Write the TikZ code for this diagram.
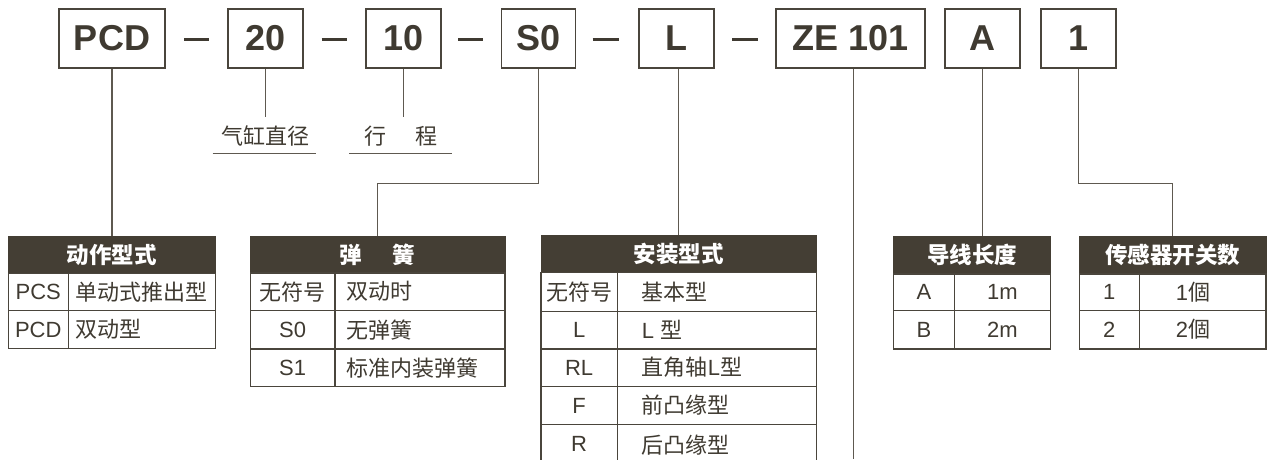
\documentclass[tikz,border=0pt]{standalone}
\usepackage{fontspec}
\setmainfont{Liberation Sans}
\newfontfamily\cjk{Noto Sans CJK SC}
\newcommand\C[1]{{\cjk #1}}
\definecolor{txtc}{HTML}{3F3A31}
\definecolor{hdrc}{HTML}{443E34}
\definecolor{boxc}{HTML}{4A453C}
\definecolor{linec}{HTML}{5E5950}
\newcommand\cellc[6]{\node[cellbox, minimum width=#4pt, minimum height=#5pt] (#1) at ({#2+#4/2},{#3+#5/2}) {#6};}
\newcommand\celll[7]{\node[cellbox, minimum width=#4pt, minimum height=#5pt] (#1) at ({#2+#4/2},{#3+#5/2}) {};
  \node[txt, anchor=west] at ([xshift=#6pt]#1.west) {#7};}
\newcommand\hcell[6]{\node[hdr, minimum width=#4pt, minimum height=#5pt] (#1) at ({#2+#4/2},{#3+#5/2}) {#6};}
\begin{document}
\begin{tikzpicture}[x=1pt,y=-1pt,
  topbox/.style={draw=boxc, line width=1.5pt, minimum height=59pt, inner sep=0pt, text=txtc, font=\fontsize{36}{36}\selectfont\bfseries},
  hdr/.style={fill=hdrc, draw=hdrc, line width=1pt, inner sep=0pt, text=white, font=\fontsize{22.5}{22.5}\selectfont\bfseries},
  cellbox/.style={draw=boxc, line width=1.3pt, inner sep=0pt, text=txtc, font=\fontsize{22}{22}\selectfont},
  txt/.style={inner sep=0pt, text=txtc, font=\fontsize{22}{22}\selectfont},
  conn/.style={draw=linec, line width=1.3pt},
  dashbar/.style={draw=txtc, line width=3pt}]
\useasboundingbox (0,0) rectangle (1267,459);
\clip (0,0) rectangle (1267,459);

% top code boxes
\node[topbox, minimum width=106pt] (PCD) at (112,38.5) {PCD};
\node[topbox, minimum width=75pt] (n20) at (265.3,38.5) {20};
\node[topbox, minimum width=75pt] (n10) at (403.3,38.5) {10};
\node[topbox, minimum width=74pt] (S0) at (538.4,38.5) {S0};
\node[topbox, minimum width=75pt] (L) at (676.5,38.5) {L};
\node[topbox, minimum width=149pt] (ZE) at (850.7,38.5) {ZE 101};
\node[topbox, minimum width=75pt] (A) at (982.7,38.5) {A};
\node[topbox, minimum width=75pt] (one) at (1078.5,38.5) {1};

% dashes
\draw[dashbar] (184,39.3) -- (209,39.3);
\draw[dashbar] (321.7,39.3) -- (347,39.3);
\draw[dashbar] (458,39.3) -- (483,39.3);
\draw[dashbar] (592.7,39.3) -- (619.3,39.3);
\draw[dashbar] (732,39.3) -- (758.3,39.3);

% labels
\node[txt] (lab1) at (265,136) {\C{气缸直径}};
\node[txt] (lab2) at (401,136) {\C{行\hspace{1.3em}程}};
\coordinate (u1a) at (212.7,153.3); \coordinate (u1b) at (316,153.3);
\coordinate (u2a) at (349,153.3); \coordinate (u2b) at (452,153.3);
\draw[conn] (u1a) -- (u1b);
\draw[conn] (u2a) -- (u2b);
\coordinate (e20) at (265.3,116.7);
\coordinate (e10) at (403.3,116.7);

% table 1
\hcell{t1h}{8.3}{236}{207.2}{37.3}{\C{动作型式}}
\cellc{t1a1}{8.3}{273.3}{60}{37}{PCS}
\celll{t1b1}{68.3}{273.3}{147.2}{37}{8}{\C{单动式推出型}}
\cellc{t1a2}{8.3}{310.3}{60}{38.4}{PCD}
\celll{t1b2}{68.3}{310.3}{147.2}{38.4}{8}{\C{双动型}}

% table 2
\hcell{t2h}{250.3}{236}{254.7}{37}{\C{弹\hspace{1.35em}簧}}
\cellc{t2a1}{250.3}{273}{84.7}{37.3}{\C{无符号}}
\celll{t2b1}{335}{273}{170}{37.3}{12}{\C{双动时}}
\cellc{t2a2}{250.3}{310.3}{84.7}{38.7}{S0}
\celll{t2b2}{335}{310.3}{170}{38.7}{12}{\C{无弹簧}}
\cellc{t2a3}{250.3}{349}{84.7}{37.7}{S1}
\celll{t2b3}{335}{349}{170}{37.7}{12}{\C{标准内装弹簧}}

% table 3
\hcell{t3h}{541}{235}{275.3}{37.7}{\C{安装型式}}
\cellc{t3a1}{541}{272.7}{76.3}{38.6}{\C{无符号}}
\celll{t3b1}{617.3}{272.7}{199}{38.6}{25}{\C{基本型}}
\cellc{t3a2}{541}{311.3}{76.3}{37.7}{L}
\celll{t3b2}{617.3}{311.3}{199}{37.7}{25}{L \C{型}}
\cellc{t3a3}{541}{349}{76.3}{37.3}{RL}
\celll{t3b3}{617.3}{349}{199}{37.3}{25}{\C{直角轴}L\C{型}}
\cellc{t3a4}{541}{386.3}{76.3}{38.4}{F}
\celll{t3b4}{617.3}{386.3}{199}{38.4}{25}{\C{前凸缘型}}
\cellc{t3a5}{541}{424.7}{76.3}{45}{\raisebox{6pt}{R}}
\celll{t3b5}{617.3}{424.7}{199}{45}{25}{\raisebox{6pt}{\C{后凸缘型}}}

% table 4
\hcell{t4h}{893.7}{236}{157}{38}{\C{导线长度}}
\cellc{t4a1}{893.7}{274}{60.6}{36.3}{A}
\cellc{t4b1}{954.3}{274}{96.4}{36.3}{1m}
\cellc{t4a2}{893.7}{310.3}{60.6}{38.7}{B}
\cellc{t4b2}{954.3}{310.3}{96.4}{38.7}{2m}

% table 5
\hcell{t5h}{1079.3}{236}{186.7}{38}{\C{传感器开关数}}
\cellc{t5a1}{1079.3}{274}{60}{36.3}{1}
\celll{t5b1}{1139.3}{274}{126.7}{36.3}{37}{1\C{個}}
\cellc{t5a2}{1079.3}{310.3}{60}{38.7}{2}
\celll{t5b2}{1139.3}{310.3}{126.7}{38.7}{37}{2\C{個}}

% connectors
\coordinate (by) at (0,183.5);
\coordinate (zeend) at (853.3,459);
\draw[conn] (PCD.south -| t1h.north) -- (t1h.north);
\draw[conn] (n20.south) -- (e20);
\draw[conn] (n10.south) -- (e10);
\draw[conn] (S0.south) -- (S0.south |- by) -| (t2h.north);
\draw[conn] (L.south -| t3h.north) -- (t3h.north);
\draw[conn] (ZE.south -| zeend) -- (zeend);
\draw[conn] (A.south) -- (A.south |- t4h.north);
\draw[conn] (one.south) -- (one.south |- by) -| (t5h.north);
\end{tikzpicture}
\end{document}
